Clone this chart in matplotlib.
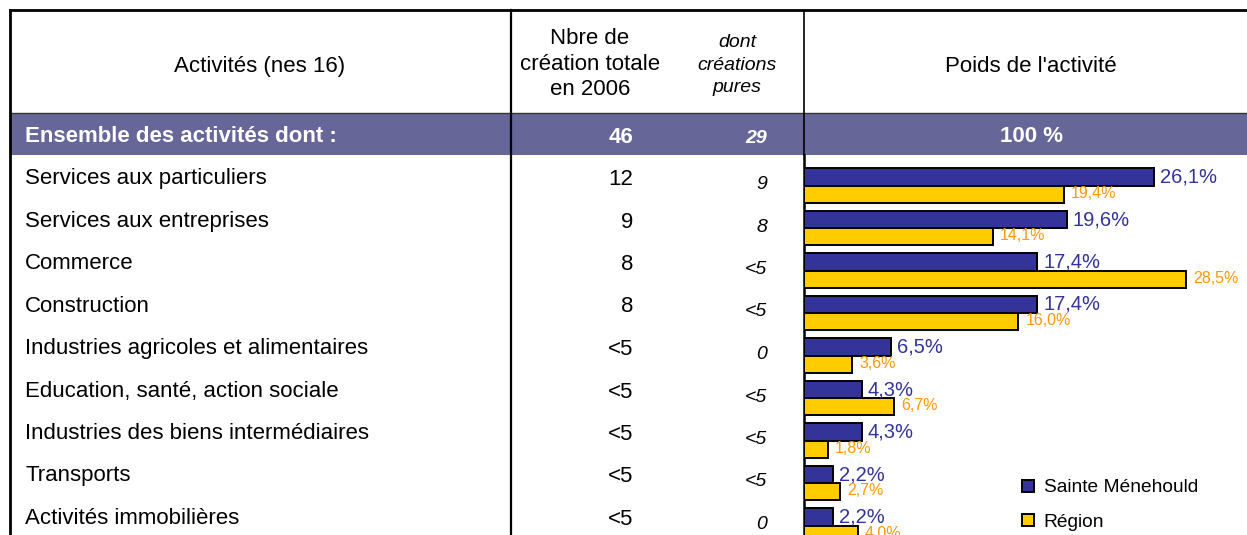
import matplotlib.pyplot as plt
from matplotlib.patches import Rectangle

plt.rcParams["font.family"] = ["Liberation Sans", "DejaVu Sans"]

# données
activites = [
    "Services aux particuliers",
    "Services aux entreprises",
    "Commerce",
    "Construction",
    "Industries agricoles et alimentaires",
    "Education, santé, action sociale",
    "Industries des biens intermédiaires",
    "Transports",
    "Activités immobilières",
]
creations_totales = ["12", "9", "8", "8", "<5", "<5", "<5", "<5", "<5"]
creations_pures = ["9", "8", "<5", "<5", "0", "<5", "<5", "<5", "0"]
poids_commune = [26.1, 19.6, 17.4, 17.4, 6.5, 4.3, 4.3, 2.2, 2.2]
poids_region = [19.4, 14.1, 28.5, 16.0, 3.6, 6.7, 1.8, 2.7, 4.0]

entete_activites = "Activités (nes 16)"
entete_total = ["Nbre de", "création totale", "en 2006"]
entete_pures = ["dont", "créations", "pures"]
entete_poids = "Poids de l'activité"
ensemble_label = "Ensemble des activités dont :"
ensemble_total = "46"
ensemble_pures = "29"
ensemble_poids = "100 %"
series = ["Sainte Ménehould", "Région"]

BLEU = "#333399"
JAUNE = "#FFCC00"
ORANGE = "#FF9900"
BANDE = "#666699"

W, H = 1247, 535
fig = plt.figure(figsize=(W / 100, H / 100), dpi=100)

# axe "tableau" en pixels
tab = fig.add_axes([0, 0, 1, 1])
tab.set_xlim(0, W)
tab.set_ylim(H, 0)
tab.axis("off")

# bande "Ensemble"
tab.add_patch(Rectangle((10, 113), W - 10, 42, facecolor=BANDE, edgecolor="none"))

# traits
tab.plot([10, W], [10, 10], color="black", lw=2)
tab.plot([10, W], [113, 113], color="#333333", lw=1)
tab.plot([10, 10], [10, H], color="black", lw=2)
tab.plot([511, 511], [10, H], color="black", lw=1.6)
tab.plot([804, 804], [10, 155], color="black", lw=1.2)
tab.plot([804, 804], [155, H], color="black", lw=1.8)

# en-têtes
tab.text(260, 72, entete_activites, fontsize=16, ha="center", va="baseline")
for k, ligne in enumerate(entete_total):
    tab.text(590, 44 + 25.5 * k, ligne, fontsize=16, ha="center", va="baseline")
for k, ligne in enumerate(entete_pures):
    tab.text(737, 47 + 22.5 * k, ligne, fontsize=14, style="italic",
             ha="center", va="baseline")
tab.text(1031, 72, entete_poids, fontsize=16, ha="center", va="baseline")

# ligne ensemble
tab.text(25, 142, ensemble_label, fontsize=16, weight="bold", color="white",
         va="baseline")
tab.text(633, 143, ensemble_total, fontsize=16, weight="bold", color="white",
         ha="right", va="baseline")
tab.text(767, 143, ensemble_pures, fontsize=14, weight="bold", style="italic",
         color="white", ha="right", va="baseline")
tab.text(1031, 142, ensemble_poids, fontsize=16, weight="bold", color="white",
         ha="center", va="baseline")

# lignes d'activités
pas = 42.5
for i, nom in enumerate(activites):
    y = 184 + pas * i
    tab.text(25, y, nom, fontsize=16, va="baseline")
    tab.text(633, y + 1, creations_totales[i], fontsize=16, ha="right", va="baseline")
    tab.text(767, y + 5, creations_pures[i], fontsize=14, style="italic",
             ha="right", va="baseline")

# graphique en barres
px_par_pct = 13.4
ax = fig.add_axes([804 / W, 0, (W - 804) / W, (H - 155) / H])
ax.set_facecolor("none")
ax.set_xlim(0, (W - 804) / px_par_pct)
ax.set_ylim((H - 185.5) / pas, (155 - 185.5) / pas)
ax.axis("off")

pos = list(range(len(activites)))
h = 0.41
b1 = ax.barh([p - 0.205 for p in pos], poids_commune, height=h, color=BLEU,
             edgecolor="black", linewidth=1.4, label=series[0])
b2 = ax.barh([p + 0.205 for p in pos], poids_region, height=h, color=JAUNE,
             edgecolor="black", linewidth=1.4, label=series[1])

for p, v in zip(pos, poids_commune):
    ax.annotate(f"{v:.1f}%".replace(".", ","), (v, p - 0.2), xytext=(6, 0),
                textcoords="offset pixels", color=BLEU, fontsize=14.5,
                va="center", ha="left")
for p, v in zip(pos, poids_region):
    ax.annotate(f"{v:.1f}%".replace(".", ","), (v, p + 0.18), xytext=(7, 0),
                textcoords="offset pixels", color=ORANGE, fontsize=11.5,
                va="center", ha="left")

fig.legend(handles=[b1, b2], loc="upper left",
           bbox_to_anchor=(1009 / W, 1 - 466 / H), frameon=False,
           fontsize=13.8, handlelength=0.6, handleheight=0.6,
           handletextpad=0.5, labelspacing=0.9, borderpad=0.2)

fig.savefig("out.png", dpi=100)
